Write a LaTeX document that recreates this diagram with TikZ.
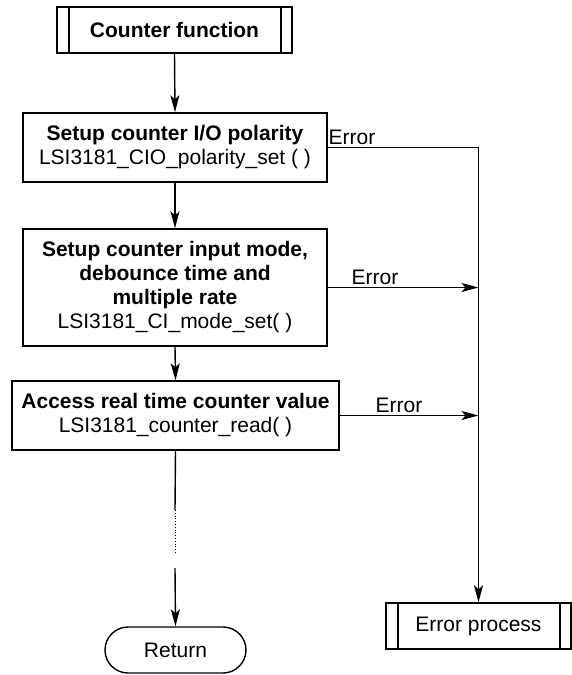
\documentclass[tikz,border=0pt]{standalone}
\usepackage{fontspec}
\setmainfont{Liberation Sans}
\usetikzlibrary{arrows.meta,shapes.misc,calc}
\begin{document}
\begin{tikzpicture}[x=1pt,y=-1pt,
  font=\fontsize{21}{24}\selectfont,
  line width=1.4pt,
  box/.style={draw, inner sep=0pt, align=center},
  predef/.style={box, path picture={
      \draw[line width=1.4pt] ([xshift=12pt]path picture bounding box.north west) -- ([xshift=12pt]path picture bounding box.south west);
      \draw[line width=1.4pt] ([xshift=-11pt]path picture bounding box.north east) -- ([xshift=-11pt]path picture bounding box.south east);}},
  arr/.style={-{Stealth[length=17pt,width=9pt,inset=4pt]}},
  lbl/.style={inner sep=0pt, anchor=west}]
\useasboundingbox (0,0) rectangle (572,675);

\node[predef, minimum width=235pt, minimum height=46pt] (cf) at (174.5,30) {\bfseries Counter function};
\node[box, minimum width=304pt, minimum height=69pt] (b1) at (175,147.5) {\bfseries Setup counter I/O polarity\\LSI3181\_CIO\_polarity\_set ( )};
\node[box, minimum width=304pt, minimum height=117pt] (b2) at (175,287.5) {\bfseries Setup counter input mode,\\\bfseries debounce time and\\\bfseries multiple rate\\LSI3181\_CI\_mode\_set( )};
\node[box, minimum width=327pt, minimum height=69pt] (b3) at (175.5,415.5) {\bfseries Access real time counter value\\LSI3181\_counter\_read( )};
\node[draw, rounded rectangle, inner sep=0pt, minimum width=141pt, minimum height=46pt] (ret) at (175.5,650) {Return};
\node[predef, minimum width=185pt, minimum height=46pt] (ep) at (478.5,626) {Error process};

\coordinate (d1) at (175,510);
\coordinate (d2) at (175,553);
\coordinate (d3) at (175,568);

\draw[arr] (cf.south) -- (b1.north);
\draw[arr] (b1.south) -- (b2.north);
\draw[arr] (b2.south) -- (b3.north);
\draw (b3.south) -- (d1);
\draw[line width=0.8pt, dotted] (d1) -- (d2);
\draw[arr] (d3) -- (ret.north);

\draw[arr] (b1.east) -| (ep.north);
\draw[arr] (b2.east) -- (b2.east -| ep.north);
\draw[arr] (b3.east) -- (b3.east -| ep.north);

\node[lbl] (e1) at (328,137) {Error};
\node[lbl] (e2) at (351,277) {Error};
\node[lbl] (e3) at (375,405) {Error};
\end{tikzpicture}
\end{document}
